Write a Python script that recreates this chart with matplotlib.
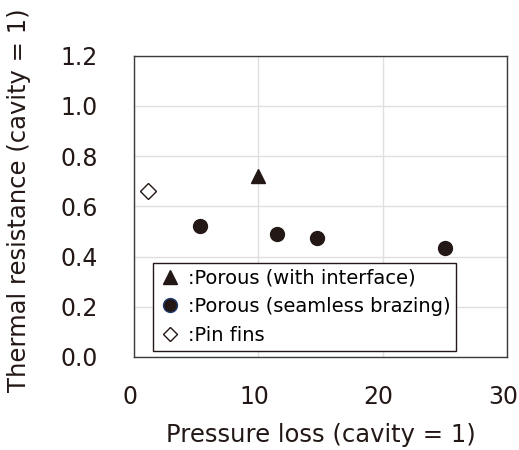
import matplotlib.pyplot as plt
import matplotlib.transforms as mtransforms

# data
tri_x = [10.0]
tri_y = [0.72]
circ_x = [5.3, 11.5, 14.7, 25.0]
circ_y = [0.52, 0.49, 0.475, 0.432]
dia_x = [1.1]
dia_y = [0.66]

plt.rcParams['font.family'] = ['DejaVu Sans']

fig = plt.figure(figsize=(5.19, 4.5), dpi=100)
ax = fig.add_axes([0.258, 0.207, 0.719, 0.669])

ax.plot(tri_x, tri_y, ls='none', marker='^', ms=10, color='#231815',
        label=':Porous (with interface)')
ax.plot(circ_x, circ_y, ls='none', marker='o', ms=10, color='#231815',
        markeredgecolor='#231815', label=':Porous (seamless brazing)')
ax.plot(dia_x, dia_y, ls='none', marker='D', ms=8, mfc='white',
        mec='#231815', mew=1.0, label=':Pin fins')

ax.set_xlim(0, 30)
ax.set_ylim(0, 1.2)
ax.set_xticks([0, 10, 20, 30])
ax.set_yticks([0.0, 0.2, 0.4, 0.6, 0.8, 1.0, 1.2])
ax.set_yticklabels(['0.0', '0.2', '0.4', '0.6', '0.8', '1.0', '1.2'])
ax.grid(True, color='#e0e0e0', lw=1)
ax.set_axisbelow(True)
ax.tick_params(length=0, labelsize=17, colors='#231815')
ax.tick_params(axis='y', pad=26)
ax.tick_params(axis='x', pad=20)
shift = mtransforms.ScaledTranslation(-4 / 100, 0, fig.dpi_scale_trans)
for lab in ax.get_xticklabels():
    lab.set_transform(lab.get_transform() + shift)
for s in ax.spines.values():
    s.set_color('#3a3a3a')
    s.set_linewidth(1)

ax.set_xlabel('Pressure loss (cavity = 1)', fontsize=17.5, labelpad=10, color='#231815')
fig.text(19 / 519, 1 - 200 / 450, 'Thermal resistance (cavity = 1)', rotation=90,
         ha='center', va='center', fontsize=17.5, color='#231815')

leg = ax.legend(loc='lower left', bbox_to_anchor=(0.05, 0.02), fontsize=14,
                handletextpad=0.3, handlelength=1.2, borderpad=0.3,
                labelspacing=0.5, fancybox=False, framealpha=1,
                borderaxespad=0)
leg.get_frame().set_edgecolor('#231815')
leg.get_frame().set_linewidth(1)
leg.legend_handles[1].set_markeredgecolor('#1f3a6b')
leg.legend_handles[1].set_markersize(10)
leg.legend_handles[0].set_markersize(10)
leg.legend_handles[2].set_markersize(7)

fig.savefig('out.png', dpi=100)
